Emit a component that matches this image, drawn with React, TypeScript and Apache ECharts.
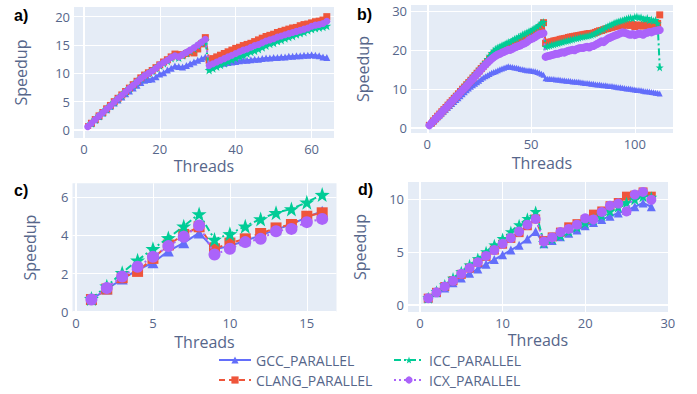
import React, { useEffect, useRef } from "react";
import * as echarts from "echarts";

// ---------- data ----------
const threadsA = Array.from({ length: 64 }, (_, i) => i + 1);
const threadsB = Array.from({ length: 112 }, (_, i) => i + 1);
const threadsC = Array.from({ length: 16 }, (_, i) => i + 1);
const threadsD = Array.from({ length: 28 }, (_, i) => i + 1);

const seriesNames = ["GCC_PARALLEL", "CLANG_PARALLEL", "ICC_PARALLEL", "ICX_PARALLEL"];
const panelLabels = ["a)", "b)", "c)", "d)"];
const xTickStep = [20, 50, 5, 10];
const yTickStep = [5, 10, 2, 5];

// panel a (64 threads)
const gccA = [0.6,1.2,1.8,2.4,3.0,3.6,4.2,4.75,5.3,5.85,6.4,6.9,7.4,7.9,8.4,8.8,
  8.9,9.0,9.4,9.9,10.1,10.6,10.9,11.3,11.2,11.1,11.4,11.7,12.0,12.3,12.6,12.9,
  11.2,11.4,11.6,11.7,11.8,11.9,12.0,12.1,12.2,12.3,12.3,12.4,12.5,12.5,12.6,12.7,
  12.7,12.8,12.8,12.9,12.9,13.0,13.0,13.1,13.1,13.2,13.2,13.3,13.2,13.1,12.9,12.8];
const clangA = [0.6,1.2,1.85,2.5,3.1,3.75,4.35,5.0,5.6,6.2,6.8,7.4,8.0,8.6,9.2,9.7,
  10.1,10.5,11.0,11.5,12.0,12.4,12.9,13.4,13.3,13.2,13.5,13.8,13.6,14.3,15.2,16.3,
  12.3,12.6,12.9,13.2,13.5,13.8,14.1,14.4,14.6,14.9,15.1,15.3,15.6,15.9,16.2,16.5,
  16.7,16.9,17.2,17.4,17.6,17.8,18.0,18.1,18.4,18.6,18.7,18.9,19.1,19.2,19.4,20.0];
const iccA = [0.6,1.2,1.85,2.5,3.1,3.7,4.3,4.95,5.55,6.15,6.75,7.35,7.9,8.5,9.1,9.6,
  10.0,10.4,10.9,11.4,11.8,12.2,12.7,13.0,12.8,13.2,13.6,14.0,14.4,14.9,15.4,15.8,
  10.6,10.9,11.2,11.5,11.8,12.1,12.4,12.7,13.0,13.2,13.5,13.8,14.0,14.3,14.6,14.9,
  15.2,15.4,15.7,15.9,16.2,16.4,16.6,16.9,17.1,17.3,17.6,17.8,18.0,18.1,18.2,18.4];
const icxA = [0.6,1.2,1.85,2.5,3.1,3.7,4.3,4.95,5.55,6.15,6.75,7.35,7.9,8.5,9.1,9.6,
  10.0,10.4,10.9,11.5,11.9,12.3,12.8,13.1,12.9,13.3,13.7,14.1,14.5,15.0,15.5,16.0,
  11.4,11.7,12.0,12.3,12.6,12.9,13.2,13.5,13.8,14.1,14.3,14.6,14.9,15.1,15.4,15.7,
  15.9,16.1,16.4,16.6,16.8,17.0,17.2,17.4,17.6,17.8,18.0,18.3,18.5,18.6,18.8,19.2];

// panel b (112 threads)
const gccB = [0.6,1.1,1.6,2.1,2.6,3.1,3.6,4.1,4.6,5.1,5.6,6.1,6.6,7.1,7.6,8.1,8.6,9.1,9.6,10.1,
  10.5,10.9,11.3,11.7,12.1,12.5,12.9,13.2,13.5,13.8,14.1,14.3,14.5,14.8,15.0,15.2,15.4,15.6,15.8,
  15.7,15.6,15.5,15.4,15.3,15.1,15.0,14.9,14.8,14.8,14.7,14.6,14.5,14.3,14.1,13.9,13.6,
  12.7,12.6,12.6,12.5,12.5,12.4,12.4,12.3,12.2,12.2,12.1,12.1,12.0,11.9,11.9,11.8,11.8,11.7,11.6,11.5,
  11.5,11.4,11.3,11.3,11.2,11.1,11.1,11.0,10.9,10.9,10.8,10.7,10.7,10.6,10.5,10.4,10.4,10.3,10.2,10.1,
  10.1,10.0,9.9,9.8,9.7,9.7,9.6,9.5,9.4,9.4,9.3,9.2,9.1,9.0,8.9,8.8];
const clangB = [0.6,1.2,1.75,2.35,2.95,3.5,4.1,4.65,5.2,5.8,6.4,6.95,7.55,8.1,8.7,9.3,9.9,10.45,11.05,11.6,
  12.2,12.8,13.4,14.0,14.6,15.2,15.8,16.4,17.0,17.6,18.2,18.8,19.3,
  19.6,19.9,20.2,20.4,20.7,21.0,21.1,21.5,21.8,22.0,22.4,22.6,23.0,23.2,23.5,23.8,24.1,24.5,24.8,25.1,25.5,26.0,27.0,
  21.7,21.8,22.0,22.1,22.3,22.4,22.5,22.7,22.8,22.9,23.0,23.2,23.3,23.4,23.5,23.6,23.7,23.8,23.9,24.0,24.1,24.2,24.2,24.3,
  24.5,24.7,24.9,25.0,25.2,25.4,25.5,25.7,25.8,26.0,26.1,26.2,26.3,26.3,26.4,26.5,26.4,26.3,26.5,26.0,
  26.2,26.4,26.3,26.1,26.4,26.5,26.3,26.6,26.4,26.4,26.8,29.0];
const iccB = [0.6,1.2,1.8,2.4,3.0,3.5,4.1,4.7,5.3,5.9,6.5,7.1,7.7,8.3,8.9,9.5,10.1,10.7,11.3,11.9,
  12.5,13.1,13.7,14.3,14.9,15.5,16.2,16.9,17.7,18.5,19.2,19.8,20.3,
  20.6,20.9,21.2,21.4,21.7,22.0,22.1,22.5,22.8,23.0,23.4,23.6,24.0,24.2,24.5,24.8,25.0,25.4,25.7,26.0,26.4,27.0,27.2,
  20.8,21.0,21.1,21.3,21.4,21.6,21.7,21.9,22.0,22.2,22.3,22.4,22.6,22.7,22.9,23.0,23.1,23.3,23.4,23.5,23.6,23.7,23.8,24.0,
  24.3,24.6,24.9,25.2,25.4,25.8,26.1,26.4,26.6,26.9,27.1,27.3,27.5,27.6,27.8,28.0,28.2,28.3,28.1,28.5,
  28.6,28.3,28.4,28.0,27.9,28.2,27.6,27.8,27.5,27.7,26.8,15.5];
const icxB = [0.6,1.2,1.7,2.3,2.9,3.4,4.0,4.6,5.1,5.7,6.3,6.8,7.4,8.0,8.5,9.1,9.7,10.2,10.8,11.4,
  12.0,12.6,13.2,13.8,14.4,15.0,15.6,16.2,16.7,17.2,17.7,18.1,18.5,
  18.8,19.0,19.3,19.5,19.8,20.0,20.0,20.3,20.6,20.8,21.0,21.2,21.5,21.7,22.0,22.5,22.8,23.0,23.3,23.7,24.0,24.1,24.3,
  18.2,18.4,18.5,18.7,18.8,19.0,19.0,19.2,19.4,19.3,19.6,19.8,19.9,20.0,19.9,20.2,20.4,20.5,20.5,20.7,20.8,20.6,20.9,21.0,
  21.3,21.6,21.9,22.2,22.0,22.5,22.9,23.1,23.4,23.6,23.8,24.0,24.3,24.5,24.4,24.3,24.0,23.9,24.1,23.8,
  24.0,24.2,24.1,23.9,24.3,24.4,24.6,24.5,24.8,24.9,25.0,25.1];

// panel c (16 threads)
const gccC = [0.65,1.2,1.72,2.2,2.57,3.18,3.61,4.13,3.27,3.45,3.72,4.0,4.3,4.58,4.95,5.26];
const clangC = [0.65,1.2,1.79,2.12,2.8,3.5,4.05,4.45,3.3,3.6,3.82,4.1,4.39,4.57,5.0,5.18];
const iccC = [0.7,1.35,2.05,2.7,3.3,3.87,4.48,5.12,3.79,4.08,4.48,4.86,5.18,5.38,5.73,6.13];
const icxC = [0.65,1.25,1.85,2.36,2.88,3.44,3.93,4.52,3.0,3.3,3.65,3.82,4.22,4.34,4.69,4.86];

// panel d (28 threads)
const gccD = [0.65,1.15,1.6,2.1,2.55,3.0,3.4,3.85,4.3,4.75,5.2,5.65,6.25,6.95,
  5.8,6.1,6.45,6.8,7.1,7.5,7.8,8.1,8.4,8.7,8.95,9.3,9.65,9.3];
const clangD = [0.65,1.2,1.75,2.3,2.9,3.5,4.05,4.6,5.2,5.75,6.3,6.85,7.5,8.15,
  6.1,6.45,6.9,7.4,7.7,8.1,8.6,8.9,9.4,9.7,10.3,10.4,10.7,10.3];
const iccD = [0.7,1.3,1.9,2.55,3.15,3.8,4.4,5.05,5.7,6.3,6.95,7.6,8.2,8.85,
  5.9,6.3,6.6,7.0,7.4,7.8,8.1,8.5,8.9,9.3,9.7,10.0,10.3,10.2];
const icxD = [0.65,1.2,1.75,2.3,2.95,3.5,4.05,4.65,5.2,5.8,6.35,6.95,7.6,8.15,
  6.0,6.4,6.9,7.2,7.6,8.2,8.1,8.8,9.4,9.6,8.85,10.45,10.7,9.95];

// ---------- styling ----------
const FONT = '"Open Sans", sans-serif';
const TXT = "#56668a";
const BG = "#E5ECF6";
const STAR =
  "path://M50,0 L61.8,35.1 L98.1,35.5 L69.1,57.3 L79.4,92 L50,71 L20.6,92 L30.9,57.3 L1.9,35.5 L38.2,35.1 Z";
const styles = [
  { color: "#636EFA", symbol: "triangle", dash: "solid" as any },
  { color: "#EF553B", symbol: "rect", dash: [6, 4] as any },
  { color: "#00CC96", symbol: STAR, dash: [7, 3, 2, 3] as any },
  { color: "#AB63FA", symbol: "circle", dash: [2, 3] as any },
];
const legendPos = [
  { left: 218, top: 353, itemWidth: 32 },
  { left: 218, top: 373, itemWidth: 32 },
  { left: 393, top: 353, itemWidth: 30 },
  { left: 393, top: 373, itemWidth: 30 },
];

const panels = [
  { threads: threadsA, values: [gccA, clangA, iccA, icxA], sizes: [7, 7, 9, 7],
    grid: { left: 74, top: 7, width: 260, height: 131 },
    x: [-2.6, 65.9], y: [-1.4, 21.7], xGap: 20, yGap: 45, labelPos: [14, 7] },
  { threads: threadsB, values: [gccB, clangB, iccB, icxB], sizes: [6, 7, 8, 8],
    grid: { left: 411, top: 5, width: 262, height: 128 },
    x: [-7.86, 118.4], y: [-1.36, 31.54], xGap: 22, yGap: 40, labelPos: [357, 6] },
  { threads: threadsC, values: [gccC, clangC, iccC, icxC], sizes: [11, 11, 15, 12],
    grid: { left: 72.5, top: 183.3, width: 264, height: 128.7 },
    x: [-0.23, 16.93], y: [0, 6.72], xGap: 22, yGap: 35, labelPos: [14, 182] },
  { threads: threadsD, values: [gccD, clangD, iccD, icxD], sizes: [9, 9, 12, 10],
    grid: { left: 408, top: 182, width: 260, height: 130 },
    x: [-1.45, 30.02], y: [-0.66, 11.64], xGap: 20, yGap: 40, labelPos: [358, 181] },
];

const onStep = (step: number) => (v: number) => {
  const r = v / step;
  return Math.abs(r - Math.round(r)) < 1e-6 ? String(Math.round(v)) : "";
};

export default function App() {
  const ref = useRef<HTMLDivElement>(null);
  useEffect(() => {
    if (!ref.current) return;
    const chart = echarts.init(ref.current, null, { renderer: "svg" });

    const grids: any[] = [];
    const xAxes: any[] = [];
    const yAxes: any[] = [];
    const series: any[] = [];

    panels.forEach((p, g) => {
      grids.push({ ...p.grid, show: true, backgroundColor: BG, borderWidth: 0, containLabel: false });
      const axisCommon = {
        type: "value",
        gridIndex: g,
        axisLine: { show: false },
        axisTick: { show: false },
        splitLine: { show: true, showMinLine: false, showMaxLine: false, lineStyle: { color: "#ffffff", width: 1 } },
        nameLocation: "middle",
        nameTextStyle: { color: TXT, fontSize: 16, fontFamily: FONT },
      };
      xAxes.push({
        ...axisCommon,
        min: p.x[0], max: p.x[1],
        minInterval: xTickStep[g], maxInterval: xTickStep[g],
        name: "Threads", nameGap: p.xGap,
        axisLabel: { color: TXT, fontSize: 13, fontFamily: FONT, margin: 4, formatter: onStep(xTickStep[g]) },
      });
      yAxes.push({
        ...axisCommon,
        min: p.y[0], max: p.y[1],
        minInterval: yTickStep[g], maxInterval: yTickStep[g],
        name: "Speedup", nameGap: p.yGap, nameRotate: 90,
        axisLabel: { color: TXT, fontSize: 13, fontFamily: FONT, margin: 4, formatter: onStep(yTickStep[g]) },
      });
      // zero lines
      series.push({
        type: "line", xAxisIndex: g, yAxisIndex: g, data: [], silent: true, z: 1,
        markLine: {
          silent: true, symbol: "none", animation: false,
          label: { show: false },
          lineStyle: { color: "#ffffff", width: 2, type: "solid" },
          data: [{ xAxis: 0 }, { yAxis: 0 }],
        },
      });
      p.values.forEach((vals, k) => {
        const st = styles[k];
        series.push({
          type: "line",
          name: seriesNames[k],
          xAxisIndex: g, yAxisIndex: g,
          data: p.threads.map((t, i) => [t, vals[i]]),
          symbol: st.symbol,
          symbolSize: p.sizes[k],
          showSymbol: true,
          lineStyle: { color: st.color, width: 2, type: st.dash },
          itemStyle: { color: st.color },
          z: 2 + k,
          clip: true,
        });
      });
    });

    const legends = seriesNames.map((n, k) => ({
      orient: "horizontal",
      left: legendPos[k].left,
      top: legendPos[k].top,
      itemWidth: legendPos[k].itemWidth,
      itemHeight: 9,
      padding: 0,
      itemGap: 0,
      textStyle: { color: TXT, fontSize: 14, fontFamily: FONT },
      selectedMode: false,
      data: [n],
    }));

    chart.setOption({
      animation: false,
      grid: grids,
      xAxis: xAxes,
      yAxis: yAxes,
      series,
      legend: legends,
      graphic: panels.map((p, g) => ({
        type: "text",
        left: p.labelPos[0],
        top: p.labelPos[1],
        style: { text: panelLabels[g], font: 'bold 16px "Liberation Sans", sans-serif', fill: "#000" },
      })),
    });
    return () => chart.dispose();
  }, []);

  return (
    <div
      ref={ref}
      style={{ position: "absolute", left: 0, top: 0, width: 697, height: 394, background: "#fff" }}
    />
  );
}
